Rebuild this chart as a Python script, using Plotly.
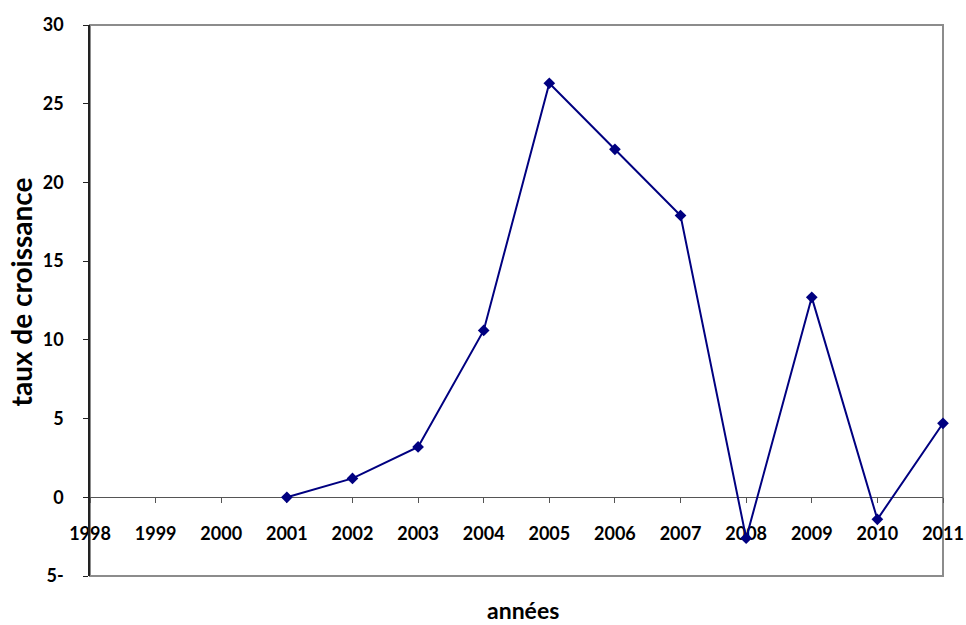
import plotly.graph_objects as go

years = [2001, 2002, 2003, 2004, 2005, 2006, 2007, 2008, 2009, 2010, 2011]
growth = [0.0, 1.2, 3.2, 10.6, 26.3, 22.1, 17.9, -2.6, 12.7, -1.4, 4.7]
x_ticks = list(range(1998, 2012))
y_ticks = [-5, 0, 5, 10, 15, 20, 25, 30]
y_labels = ["5-", "0", "5", "10", "15", "20", "25", "30"]

FONT = "Lato"
ymin, ymax = -5, 30

fig = go.Figure()
fig.add_trace(go.Scatter(
    x=years, y=growth, mode="lines+markers",
    line=dict(color="#000080", width=2),
    marker=dict(symbol="diamond", size=9, color="#000080"),
    cliponaxis=False, showlegend=False,
))

fig.update_layout(
    width=966, height=625,
    margin=dict(l=90, r=23, t=25, b=49, autoexpand=False),
    paper_bgcolor="white", plot_bgcolor="white",
    font=dict(family=FONT, size=18, color="black"),
    xaxis=dict(
        range=[1998, 2011], tickvals=x_ticks, ticktext=[str(v) for v in x_ticks],
        showgrid=False, zeroline=False, automargin=False,
        showline=True, linecolor="#555555", linewidth=1,
        ticks="outside", ticklen=5, tickcolor="#555555",
        anchor="free", position=(0 - ymin) / (ymax - ymin),
        ticklabelstandoff=15,
        tickfont=dict(family=FONT, size=18, color="black", weight="bold"),
        layer="below traces",
    ),
    yaxis=dict(
        range=[ymin, ymax], tickvals=y_ticks, ticktext=y_labels,
        showgrid=False, zeroline=False, automargin=False,
        showline=True, linecolor="#222222", linewidth=1.5,
        ticks="outside", ticklen=5, tickcolor="#222222",
        tickfont=dict(family=FONT, size=18, color="black", weight="bold"),
        ticklabelstandoff=16,
    ),
    shapes=[dict(type="rect", xref="paper", yref="paper", x0=0, x1=1, y0=0, y1=1,
                 line=dict(color="#8c8c8c", width=2), layer="below")],
    annotations=[
        dict(text="<b>années</b>", xref="paper", yref="paper", x=0.5, y=0, yshift=-34,
             xshift=6, xanchor="center", yanchor="middle", showarrow=False,
             font=dict(family=FONT, size=23, color="black", weight="bold")),
        dict(text="<b>taux de croissance</b>", xref="paper", yref="paper", x=0, y=0.5,
             xshift=-70, yshift=8, textangle=-90, xanchor="center", yanchor="middle",
             showarrow=False,
             font=dict(family=FONT, size=28, color="black", weight="bold")),
    ],
)

fig.write_html(
    "out.html",
    config={"displayModeBar": False},
    post_script="document.body.style.margin='0px';document.body.style.overflow='hidden';",
)
